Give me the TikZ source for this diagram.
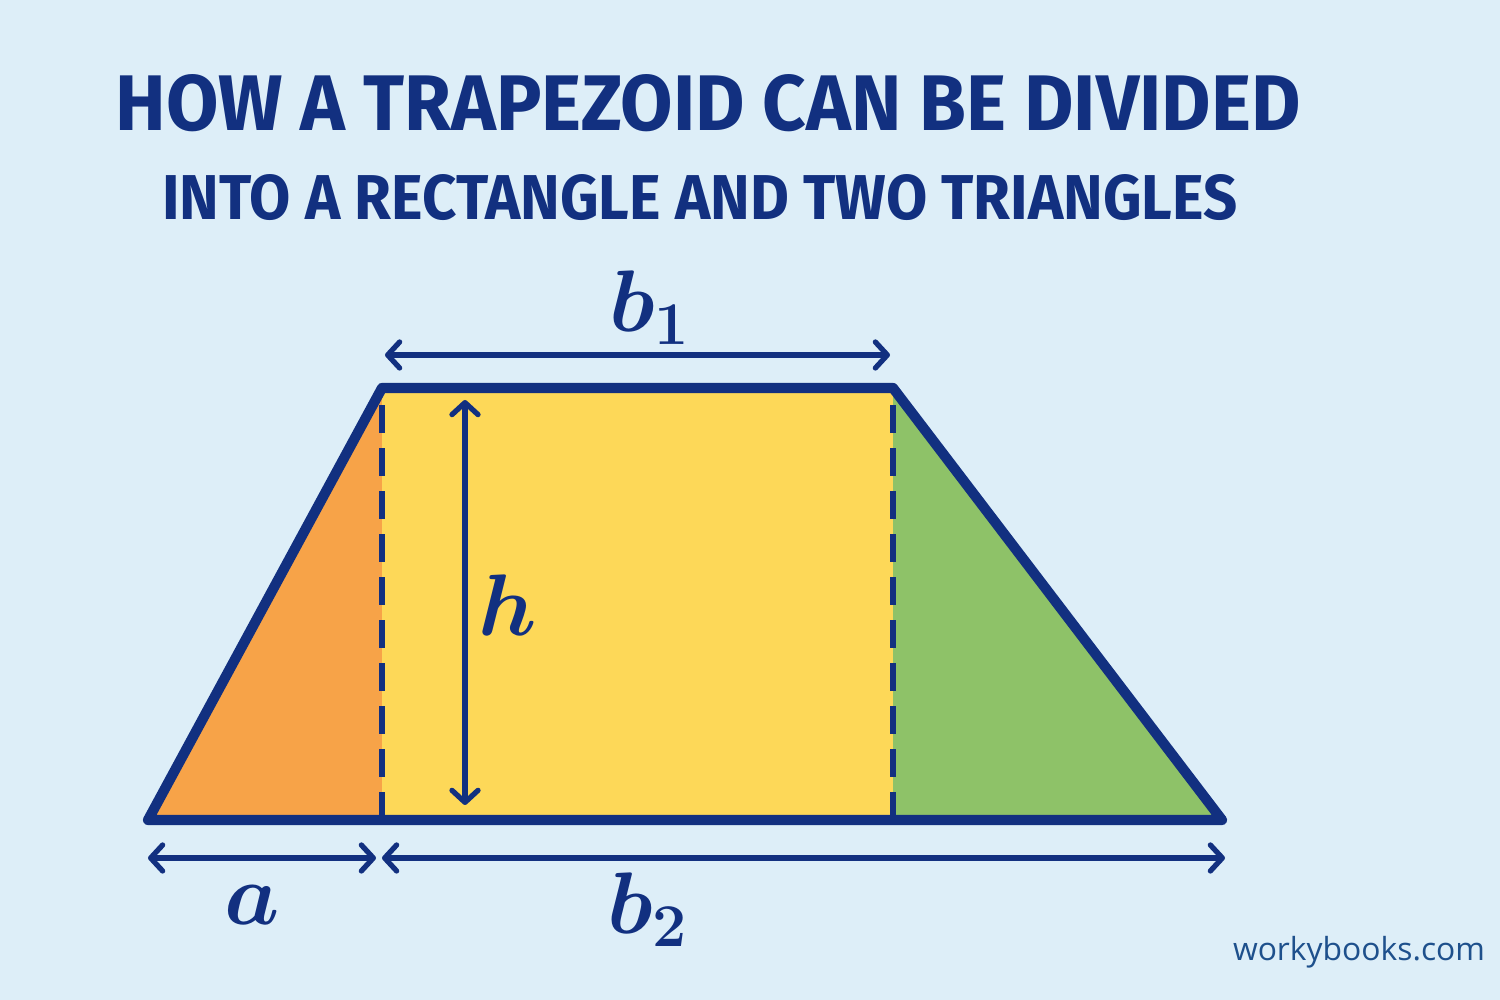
\documentclass[tikz,border=0pt]{standalone}
\usepackage{fontspec}
\setsansfont{Fira Sans}
\newfontfamily\webfont{Open Sans}
\usetikzlibrary{arrows.meta}
\definecolor{bgblue}{RGB}{221,238,248}
\definecolor{navy}{RGB}{18,48,128}
\definecolor{tri1}{RGB}{247,163,72}
\definecolor{rect}{RGB}{253,216,88}
\definecolor{tri2}{RGB}{142,194,104}
\definecolor{web}{RGB}{30,80,140}
\begin{document}
\begin{tikzpicture}[line join=round,
        outline/.style={draw=navy, line width=2.9pt},
        cut/.style={draw=navy, line width=1.5pt, dash pattern=on 0.28cm off 0.15cm},
        dim/.style={draw=navy, line width=1.5pt, {Straight Barb[length=1.2mm, width=2.6mm, round]}-{Straight Barb[length=1.2mm, width=2.6mm, round]}},
        lbl/.style={text=navy, font=\boldmath\fontsize{23}{26}\selectfont, inner sep=0pt}]
        \useasboundingbox[fill=bgblue] (0, 0) rectangle (15, -10);

        % title
        \node[text=navy, inner sep=0pt] (t1) at (7.08, -1.03) {\resizebox{11.85cm}{0.56cm}{\sffamily\bfseries HOW A TRAPEZOID CAN BE DIVIDED}};
        \node[text=navy, inner sep=0pt] (t2) at (7.00, -1.98) {\resizebox{10.75cm}{0.45cm}{\sffamily\bfseries INTO A RECTANGLE AND TWO TRIANGLES}};

        % corners of the trapezoid
        \coordinate (bl) at (1.48, -8.20);
        \coordinate (br) at (12.22, -8.20);
        \coordinate (tl) at (3.82, -3.88);
        \coordinate (tr) at (8.93, -3.88);
        \coordinate (ml) at (3.82, -8.20);
        \coordinate (mr) at (8.93, -8.20);

        \fill[tri1] (bl) -- (ml) -- (tl) -- cycle;
        \fill[rect] (ml) rectangle (tr);
        \fill[tri2] (tr) -- (br) -- (mr) -- cycle;

        \draw[cut] (ml) -- (tl);
        \draw[cut] (mr) -- (tr);
        \draw[outline] (bl) -- (tl) -- (tr) -- (br) -- cycle;

        % measures
        \coordinate (b1l) at (3.85, -3.55);
        \coordinate (b1r) at (8.90, -3.55);
        \coordinate (ht) at (4.65, -4.00);
        \coordinate (hb) at (4.65, -8.05);
        \coordinate (al) at (1.48, -8.58);
        \coordinate (ar) at (3.76, -8.58);
        \coordinate (b2l) at (3.82, -8.58);
        \coordinate (b2r) at (12.25, -8.58);

        \draw[dim] (b1l) -- (b1r);
        \draw[dim] (ht) -- (hb);
        \draw[dim] (al) -- (ar);
        \draw[dim] (b2l) -- (b2r);

        \node[lbl] (nb1) at (6.50, -3.08) {$b_1$};
        \node[lbl] (nh) at (5.08, -6.05) {$h$};
        \node[lbl] (na) at (2.52, -9.05) {$a$};
        \node[lbl] (nb2) at (6.48, -9.10) {$b_2$};

        \node[text=web, inner sep=0pt] (web) at (13.59, -9.52) {\resizebox{2.52cm}{!}{\webfont workybooks.com}};
    \end{tikzpicture}
\end{document}
